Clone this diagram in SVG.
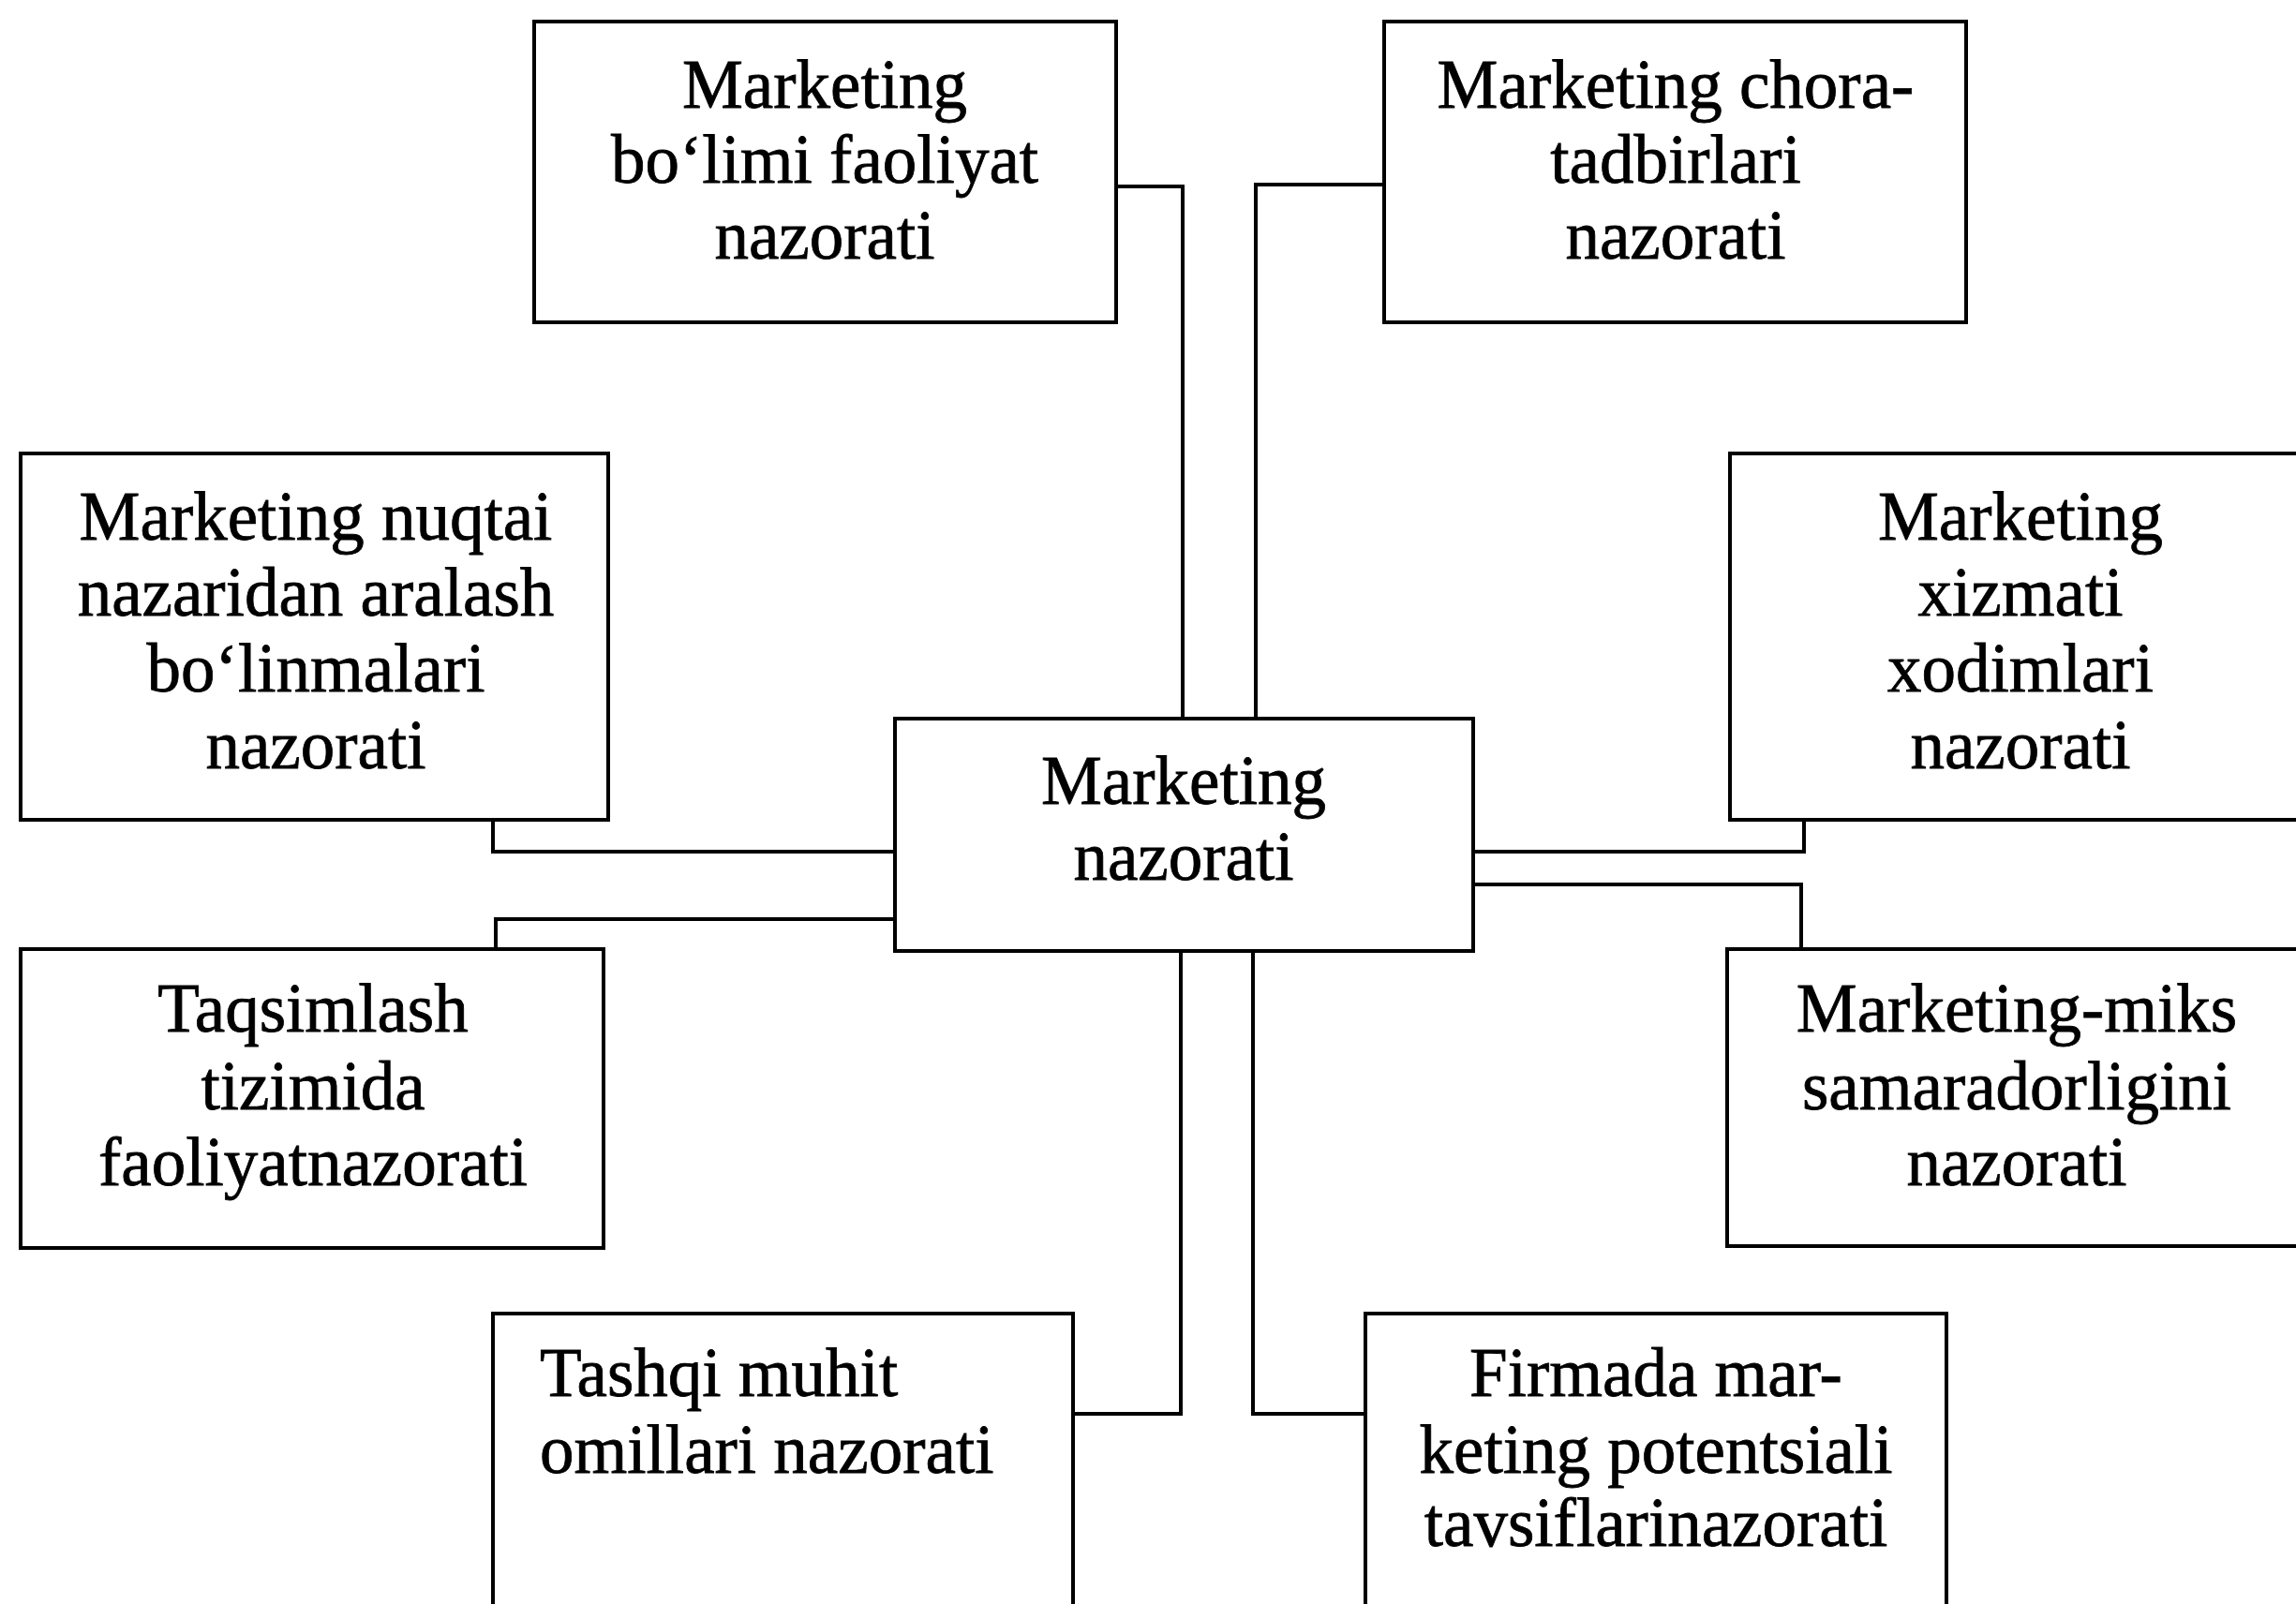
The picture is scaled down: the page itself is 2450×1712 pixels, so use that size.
<svg xmlns="http://www.w3.org/2000/svg" width="2450" height="1712" viewBox="0 0 2450 1712">
<style>
.box{fill:#fff;stroke:#000;stroke-width:4}
.conn{fill:none;stroke:#000;stroke-width:4}
text{font-family:"Liberation Serif","Times New Roman",serif;font-size:73px;fill:#000;stroke:#000;stroke-width:0.8}
.c{text-anchor:middle}
</style>
<rect x="0" y="0" width="2450" height="1712" fill="#fff"/>
<g id="connectors">
<polyline class="conn" points="1191,199 1262,199 1262,767"/>
<polyline class="conn" points="1477,197 1340,197 1340,767"/>
<polyline class="conn" points="526,875 526,909 955,909"/>
<polyline class="conn" points="529,1013 529,981 955,981"/>
<polyline class="conn" points="1925,875 1925,909 1572,909"/>
<polyline class="conn" points="1922,1013 1922,944 1572,944"/>
<polyline class="conn" points="1260,1015 1260,1509 1145,1509"/>
<polyline class="conn" points="1337,1015 1337,1509 1457,1509"/>
</g>
<g id="n1">
<rect class="box" x="570" y="23" width="621" height="321"/>
<text class="c" x="880" y="115">Marketing</text>
<text class="c" x="880" y="195">bo‘limi faoliyat</text>
<text class="c" x="880" y="276">nazorati</text>
</g>
<g id="n2">
<rect class="box" x="1477" y="23" width="621" height="321"/>
<text class="c" x="1788" y="115">Marketing chora-</text>
<text class="c" x="1788" y="195">tadbirlari</text>
<text class="c" x="1788" y="276">nazorati</text>
</g>
<g id="n3">
<rect class="box" x="22" y="484" width="627" height="391"/>
<text class="c" x="337" y="576">Marketing nuqtai</text>
<text class="c" x="337" y="657">nazaridan aralash</text>
<text class="c" x="337" y="738">bo‘linmalari</text>
<text class="c" x="337" y="820">nazorati</text>
</g>
<g id="n4">
<rect class="box" x="1846" y="484" width="630" height="391"/>
<text class="c" x="2156" y="576">Marketing</text>
<text class="c" x="2156" y="657">xizmati</text>
<text class="c" x="2156" y="738">xodimlari</text>
<text class="c" x="2156" y="820">nazorati</text>
</g>
<g id="center">
<rect class="box" x="955" y="767" width="617" height="248"/>
<text class="c" x="1263" y="858">Marketing</text>
<text class="c" x="1263" y="939">nazorati</text>
</g>
<g id="n5">
<rect class="box" x="22" y="1013" width="622" height="319"/>
<text class="c" x="334" y="1101">Taqsimlash</text>
<text class="c" x="334" y="1184">tizimida</text>
<text class="c" x="334" y="1265">faoliyatnazorati</text>
</g>
<g id="n6">
<rect class="box" x="1843" y="1013" width="630" height="317"/>
<text class="c" x="2152" y="1101">Marketing-miks</text>
<text class="c" x="2152" y="1184">samaradorligini</text>
<text class="c" x="2152" y="1265">nazorati</text>
</g>
<g id="n7">
<rect class="box" x="526" y="1402" width="619" height="330"/>
<text x="576" y="1490">Tashqi muhit</text>
<text x="576" y="1572">omillari nazorati</text>
</g>
<g id="n8">
<rect class="box" x="1457" y="1402" width="620" height="330"/>
<text class="c" x="1767" y="1490">Firmada mar-</text>
<text class="c" x="1767" y="1572">keting potentsiali</text>
<text class="c" x="1767" y="1650">tavsiflarinazorati</text>
</g>
</svg>
